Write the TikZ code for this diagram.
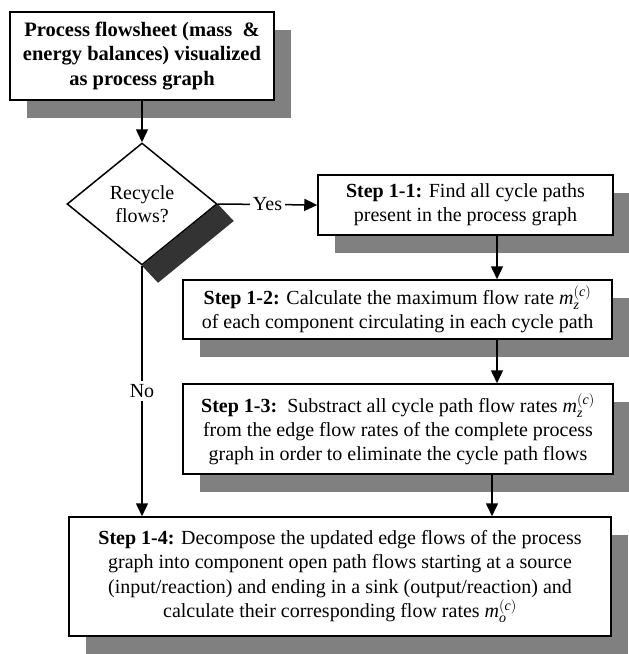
\documentclass[tikz,border=0pt]{standalone}
\usepackage{fontspec}
\setmainfont{Liberation Serif}
\usetikzlibrary{shapes.geometric,arrows.meta,shadows,backgrounds}
\newcommand\mrate[1]{$\mathit{m}_{\mathit{#1}}^{\mathit{(c)}}$}

\begin{document}
\begin{tikzpicture}[x=1pt,y=-1pt,
  stepbox/.style={draw, line width=1.5pt, fill=white, align=center, inner sep=0pt,
    font=\fontsize{20}{24}\selectfont,
    drop shadow={shadow xshift=17pt, shadow yshift=-18pt, fill=black!50, opacity=1}},
  flow/.style={line width=1.5pt, -{Triangle[length=13pt,width=12pt]}},
  lbl/.style={fill=white, inner sep=3pt, font=\fontsize{20}{24}\selectfont}]
  \useasboundingbox (0,0) rectangle (629,654);

  % start box
  \node[stepbox, font=\bfseries\fontsize{20.5}{24.5}\selectfont,
    minimum width=264pt, minimum height=88pt] (start) at (142,56)
    {Process flowsheet (mass~~\&\\energy balances) visualized\\as process graph};

  % decision diamond and its shadow on the lower right edge
  \node[draw, diamond, line width=1.5pt, fill=white, aspect=1.23, inner sep=0pt,
    minimum width=150pt, minimum height=122pt, align=center,
    font=\fontsize{20}{23}\selectfont] (recycle) at (142,204) {Recycle\\flows?};
  \begin{scope}[on background layer]
    \fill[black!80] (recycle.east) -- ([shift={(16,17)}]recycle.east)
      -- ([shift={(16,17)}]recycle.south) -- (recycle.south) -- cycle;
  \end{scope}

  % step boxes
  \node[stepbox, minimum width=295pt, minimum height=60pt] (s11) at (465.5,205)
    {\textbf{Step 1-1:} Find all cycle paths\\present in the process graph};
  \node[stepbox, minimum width=429pt, minimum height=59pt] (s12) at (397.5,309.5)
    {\textbf{Step 1-2:} Calculate the maximum flow rate \mrate{z}\\of each component circulating in each cycle path};
  \node[stepbox, minimum width=430pt, minimum height=90pt] (s13) at (398,429)
    {\textbf{Step 1-3:}~~Substract all cycle path flow rates \mrate{z}\\from the edge flow rates of the complete process\\graph in order to eliminate the cycle path flows};
  \node[stepbox, font=\fontsize{20}{24.5}\selectfont,
    minimum width=542pt, minimum height=119pt] (s14) at (340,576.5)
    {\textbf{Step 1-4:} Decompose the updated edge flows of the process\\graph into component open path flows starting at a source\\(input/reaction) and ending in a sink (output/reaction) and\\calculate their corresponding flow rates \mrate{o}};

  % connectors
  \draw[flow] (start.south) -- (recycle.north);
  \draw[flow] (recycle.east) -- node[lbl] {Yes} (s11.west);
  \draw[flow] ([xshift=31.5pt]s11.south) -- ([xshift=31.5pt]s11.south |- s12.north);
  \draw[flow] ([xshift=99.5pt]s12.south) -- ([xshift=99.5pt]s12.south |- s13.north);
  \draw[flow] ([xshift=94pt]s13.south) -- ([xshift=94pt]s13.south |- s14.north);
  \draw[flow] (recycle.south) -- node[lbl] {No} (s14.north -| recycle.south);
\end{tikzpicture}
\end{document}
